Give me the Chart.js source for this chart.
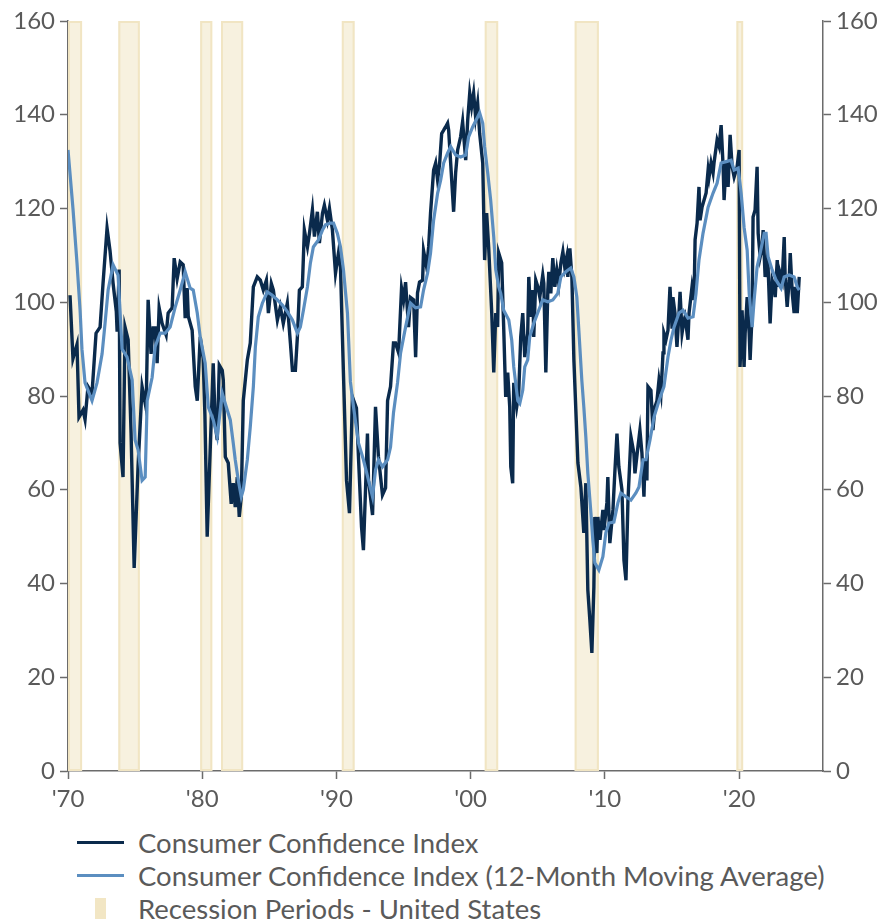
<!DOCTYPE html>
<html>
<head>
<meta charset="utf-8">
<script src="https://cdn.jsdelivr.net/npm/chart.js@4.4.1/dist/chart.umd.min.js"></script>
<style>
	body { margin: 0; background: #fff; }
	#wrap { position: relative; width: 885px; height: 921px; }
	#chartBox { position: absolute; left: 0; top: 0; width: 885px; height: 820px; }
	#legend { position: absolute; left: 0; top: 826px; font-family: Lato, sans-serif; font-size: 27.5px; color: #5a5a5a; }
	.row { display: flex; align-items: center; height: 33px; white-space: nowrap; }
	.line { display: inline-block; margin-left: 77px; width: 47px; height: 3px; margin-right: 14px; }
	.box { display: inline-block; margin-left: 95px; width: 11px; height: 21px; margin-right: 32px; background: #f2e6c4; }
</style>
</head>
<body>
<div id="wrap">
	<div id="chartBox"><canvas id="chart"></canvas></div>
	<div id="legend"></div>
</div>
<script>
const seriesLabels = ['Consumer Confidence Index', 'Consumer Confidence Index (12-Month Moving Average)', 'Recession Periods - United States'];

const cciDates = [
	1970.15, 1970.37, 1970.67, 1970.82, 1971.12, 1971.27, 1971.49, 1971.79, 1972.09, 1972.39, 1972.61, 1972.91,
	1973.13, 1973.36, 1973.60, 1973.66, 1973.81, 1973.88, 1974.10, 1974.25, 1974.48, 1974.70, 1974.93, 1975.22,
	1975.52, 1975.82, 1975.97, 1976.19, 1976.34, 1976.49, 1976.64, 1976.79, 1977.01, 1977.31, 1977.46, 1977.76,
	1977.91, 1978.13, 1978.36, 1978.58, 1978.73, 1978.88, 1978.96, 1979.25, 1979.48, 1979.63, 1979.85, 1980.07,
	1980.20, 1980.37, 1980.60, 1980.82, 1980.97, 1981.12, 1981.27, 1981.49, 1981.57, 1981.72, 1981.94, 1982.16,
	1982.31, 1982.46, 1982.61, 1982.76, 1982.91, 1983.06, 1983.36, 1983.58, 1983.81, 1984.10, 1984.33, 1984.55,
	1984.78, 1984.93, 1985.15, 1985.30, 1985.60, 1985.82, 1986.04, 1986.34, 1986.57, 1986.72, 1986.94, 1987.09,
	1987.24, 1987.46, 1987.61, 1987.84, 1987.99, 1988.21, 1988.36, 1988.58, 1988.73, 1988.96, 1989.10, 1989.33,
	1989.48, 1989.70, 1989.93, 1990.15, 1990.30, 1990.52, 1990.75, 1990.97, 1991.19, 1991.49, 1991.64, 1991.87,
	1992.01, 1992.31, 1992.39, 1992.69, 1992.91, 1993.13, 1993.43, 1993.66, 1993.81, 1994.03, 1994.25, 1994.40,
	1994.63, 1994.85, 1995.00, 1995.15, 1995.37, 1995.52, 1995.75, 1995.90, 1996.04, 1996.19, 1996.42, 1996.49,
	1996.72, 1996.87, 1997.01, 1997.24, 1997.39, 1997.54, 1997.69, 1997.84, 1997.99, 1998.13, 1998.28, 1998.36,
	1998.51, 1998.73, 1998.88, 1999.03, 1999.25, 1999.40, 1999.63, 1999.78, 1999.93, 2000.07, 2000.22, 2000.37,
	2000.52, 2000.67, 2000.90, 2001.04, 2001.19, 2001.34, 2001.57, 2001.72, 2001.87, 2002.01, 2002.09, 2002.31,
	2002.46, 2002.61, 2002.76, 2002.91, 2002.99, 2003.13, 2003.21, 2003.43, 2003.58, 2003.73, 2003.88, 2004.03,
	2004.25, 2004.33, 2004.48, 2004.63, 2004.70, 2004.85, 2005.00, 2005.15, 2005.37, 2005.45, 2005.60, 2005.75,
	2005.82, 2005.97, 2006.12, 2006.27, 2006.42, 2006.57, 2006.72, 2006.87, 2007.01, 2007.16, 2007.24, 2007.39,
	2007.54, 2007.69, 2007.99, 2008.21, 2008.43, 2008.58, 2008.73, 2008.88, 2009.03, 2009.18, 2009.25, 2009.40,
	2009.48, 2009.63, 2009.85, 2009.93, 2010.15, 2010.22, 2010.37, 2010.60, 2010.75, 2010.90, 2011.04, 2011.27,
	2011.42, 2011.57, 2011.72, 2011.94, 2012.16, 2012.24, 2012.46, 2012.61, 2012.76, 2012.91, 2012.99, 2013.13,
	2013.21, 2013.43, 2013.58, 2013.73, 2013.88, 2014.03, 2014.18, 2014.33, 2014.40, 2014.55, 2014.70, 2014.85,
	2015.00, 2015.07, 2015.22, 2015.37, 2015.52, 2015.60, 2015.75, 2015.90, 2015.97, 2016.19, 2016.27, 2016.49,
	2016.64, 2016.72, 2016.87, 2017.01, 2017.09, 2017.24, 2017.39, 2017.54, 2017.69, 2017.76, 2017.91, 2018.06,
	2018.13, 2018.36, 2018.51, 2018.66, 2018.81, 2018.88, 2019.03, 2019.18, 2019.33, 2019.48, 2019.63, 2019.85,
	2020.00, 2020.07, 2020.22, 2020.37, 2020.45, 2020.60, 2020.75, 2020.82, 2020.97, 2021.04, 2021.19, 2021.34,
	2021.42, 2021.57, 2021.72, 2021.79, 2021.94, 2022.09, 2022.16, 2022.31, 2022.46, 2022.61, 2022.69, 2022.84,
	2022.99, 2023.06, 2023.21, 2023.36, 2023.43, 2023.58, 2023.73, 2023.81, 2023.96, 2024.10, 2024.18, 2024.33,
	2024.48
];
const cciValues = [
	101.5, 88, 91, 75.5, 77, 75, 82, 80.6, 93.4, 94.7, 104, 115.8,
	111, 104, 98, 93.7, 107, 70, 62.7, 94.7, 92, 72, 43.3, 65,
	82, 77.4, 100.5, 89, 94.5, 94.5, 87, 98.8, 95.5, 93, 97.7, 98.8,
	109.4, 105, 108.6, 108, 96.6, 103, 97, 94, 82, 79, 92.6, 88,
	76, 50, 69, 87, 74, 70.6, 86.6, 85.5, 83.4, 67, 65.7, 57,
	61.4, 56.3, 62.7, 54.2, 58.5, 79, 87.7, 91.3, 103.3, 105.4, 104.7, 102.6,
	104.7, 97.7, 104, 102.6, 96.2, 99, 95.5, 99.8, 91.3, 85.5, 85.5, 92.6,
	102.6, 103.3, 115.4, 111.8, 114.7, 119.7, 114, 119.3, 112.6, 119, 120.7, 117.5,
	120, 115.4, 106.2, 110.5, 107.5, 85, 62, 55, 79.8, 77.4, 67, 52,
	47.1, 72, 62, 54.6, 77.7, 67, 58.9, 60.4, 79, 82, 91.3, 91.3,
	89.2, 103, 100.5, 104.3, 94.7, 101, 100.5, 88.3, 102, 104.3, 104.7, 111,
	107.5, 111.8, 119, 128.2, 129.7, 126, 129.7, 136, 136.7, 137.4, 138.2, 136.7,
	129.7, 119.3, 127.6, 132.5, 135.3, 138.5, 130.3, 138.9, 144.6, 141.7, 144.6, 139.5,
	142.5, 136, 129.7, 109, 119, 111.8, 97.7, 85, 97.7, 94.7, 110.5, 108.4,
	94.7, 79.8, 85, 77.7, 64.9, 61.4, 82.8, 77.7, 80.6, 92.6, 97.7, 88.3,
	93.4, 105.4, 96.9, 102.6, 92.6, 104.7, 103.3, 101.1, 105.8, 104, 85, 102.6,
	106.5, 101.9, 109.4, 103.3, 106.9, 104, 108.4, 110.8, 107.5, 109.7, 105.4, 111.5,
	105.4, 87.7, 65.7, 60.6, 50.8, 61.4, 38.6, 32.2, 25.2, 39.3, 54.2, 46.5,
	54.2, 49.3, 55.7, 51.4, 57.2, 62.7, 48.6, 55.7, 64.2, 72, 64.9, 60,
	45, 40.7, 57.8, 71.3, 67.8, 63.5, 69.1, 72.7, 67.8, 58.5, 66.4, 62,
	82, 81.2, 72.7, 77.7, 79, 83.4, 80.6, 89.2, 93.4, 92, 94, 103.3,
	94.7, 101.1, 97.7, 90.5, 97.7, 102.2, 93.4, 96.2, 96.9, 92, 97.7, 103.3,
	100.5, 113.3, 116.9, 124.6, 117.5, 120.3, 121.8, 123.3, 128.2, 126.7, 129.7, 127.6,
	129.7, 134.6, 133.2, 137.8, 128.9, 121.8, 129.7, 124.6, 135.7, 128.9, 126.7, 128.9,
	132.5, 86.2, 98.3, 86.2, 93.4, 101.1, 93.4, 87.7, 97.7, 118.2, 119.7, 128.9,
	114.7, 109.7, 111.8, 115.4, 105.4, 109, 107.5, 95.5, 104.7, 103.3, 101.1, 109,
	103.3, 106.2, 104.7, 113.9, 105.4, 99, 104.7, 110.5, 101.9, 97.7, 103.3, 97.7,
	105.4
];

const maDates = [
	1970.00, 1970.37, 1970.67, 1970.90, 1971.04, 1971.27, 1971.79, 1972.16, 1972.54, 1972.76, 1972.99, 1973.36,
	1973.73, 1974.03, 1974.40, 1974.78, 1975.00, 1975.22, 1975.52, 1975.75, 1975.90, 1976.27, 1976.49, 1976.87,
	1977.24, 1977.61, 1977.99, 1978.36, 1978.73, 1979.10, 1979.33, 1979.63, 1979.85, 1980.22, 1980.45, 1980.82,
	1981.12, 1981.49, 1981.79, 1982.09, 1982.31, 1982.46, 1982.69, 1982.91, 1983.06, 1983.36, 1983.58, 1983.81,
	1983.96, 1984.18, 1984.48, 1984.85, 1985.22, 1985.60, 1985.97, 1986.34, 1986.72, 1987.09, 1987.31, 1987.54,
	1987.84, 1988.06, 1988.28, 1988.66, 1988.96, 1989.18, 1989.55, 1989.78, 1990.07, 1990.30, 1990.52, 1990.82,
	1991.04, 1991.27, 1991.64, 1992.01, 1992.39, 1992.69, 1992.91, 1993.13, 1993.43, 1993.81, 1994.03, 1994.25,
	1994.55, 1994.78, 1995.15, 1995.52, 1995.90, 1996.27, 1996.49, 1996.79, 1997.01, 1997.24, 1997.54, 1997.76,
	1997.99, 1998.28, 1998.51, 1998.88, 1999.25, 1999.63, 1999.85, 2000.15, 2000.52, 2000.67, 2000.90, 2001.04,
	2001.27, 2001.49, 2001.72, 2001.87, 2002.09, 2002.24, 2002.46, 2002.84, 2003.06, 2003.21, 2003.51, 2003.66,
	2003.88, 2004.03, 2004.25, 2004.40, 2004.70, 2005.07, 2005.37, 2005.75, 2006.12, 2006.49, 2006.72, 2007.09,
	2007.46, 2007.69, 2007.91, 2008.06, 2008.28, 2008.43, 2008.58, 2008.73, 2008.96, 2009.10, 2009.25, 2009.55,
	2009.85, 2010.07, 2010.30, 2010.67, 2010.97, 2011.19, 2011.57, 2011.94, 2012.31, 2012.54, 2012.84, 2013.06,
	2013.36, 2013.66, 2014.03, 2014.40, 2014.70, 2014.93, 2015.15, 2015.52, 2015.82, 2016.19, 2016.57, 2016.79,
	2017.01, 2017.31, 2017.69, 2018.06, 2018.36, 2018.66, 2019.03, 2019.40, 2019.63, 2019.93, 2020.15, 2020.37,
	2020.60, 2020.75, 2020.97, 2021.12, 2021.34, 2021.57, 2021.87, 2022.01, 2022.16, 2022.46, 2022.76, 2023.13,
	2023.36, 2023.73, 2024.10, 2024.33, 2024.48
];
const maValues = [
	132.5, 120, 108.4, 98.3, 90, 82.8, 79, 82.8, 89, 95.5, 102.6, 108,
	105.8, 90, 88.3, 83.4, 70.6, 68.5, 62, 62.7, 79, 84, 90.5, 93.4,
	93.4, 94.7, 99, 102.6, 106.5, 103, 102.6, 97.7, 92.6, 87, 77.7, 74.9,
	71.3, 80.6, 77.7, 74.9, 70, 66.4, 62, 58.5, 60, 66.4, 73.4, 82,
	90.5, 96.9, 99.8, 102.2, 101.5, 100.5, 99.4, 98, 96.2, 93.4, 94.7, 98.3,
	103.3, 108.4, 111.8, 113.3, 115.4, 116.5, 116.9, 116.9, 114.7, 111.8, 107, 97.7,
	83, 77.7, 70, 66.4, 62, 58.5, 64.2, 66.4, 64.9, 66.4, 69.1, 76.4,
	82.8, 89.2, 94.7, 99.8, 98.8, 99, 102.6, 106.2, 110.5, 117.5, 123.3, 126,
	129.7, 131.8, 133.2, 131.4, 131, 131.4, 135.3, 137.4, 139.5, 140.4, 138.2, 133.2,
	127.6, 121.8, 113.9, 106.9, 103.3, 101.9, 98.3, 96.2, 91.9, 86.2, 79, 78.4,
	81.2, 86.2, 87.7, 92.6, 95.5, 98.3, 100.5, 100.1, 100.5, 101.9, 105.4, 106.5,
	107.3, 105.4, 101.1, 94, 83.4, 77.7, 71.3, 63.5, 55, 49.3, 44.4, 42.9,
	45.7, 50.8, 52.9, 53.1, 57.2, 59.3, 58.5, 57.8, 59.3, 60.6, 66.4, 66.4,
	70.6, 75.5, 79, 82, 88.3, 92, 94.7, 97.7, 98.3, 96.6, 96.9, 101.9,
	109, 114.7, 120.3, 123.3, 125.4, 129.7, 130, 130.3, 128.2, 128.6, 123.3, 116,
	111.1, 101.9, 94.7, 100.5, 107.5, 110.5, 114.7, 114.7, 109.7, 106.9, 104.7, 103,
	105.4, 105.8, 105.4, 103.3, 102.6
];

const recessionStarts = [1970.0, 1973.75, 1979.85, 1981.4, 1990.4, 2001.05, 2007.75, 2019.8];
const recessionEnds = [1971.05, 1975.35, 1980.75, 1983.05, 1991.35, 2002.05, 2009.55, 2020.3];

const textColor = '#5a5a5a';
const axisColor = '#6b6b6b';
const tickFont = { family: 'Lato', size: 24 };

let recessionBands = {
	id: 'recessionBands',
	beforeDatasetsDraw(chart){
		let ctx = chart.ctx;
		let area = chart.chartArea;
		let xScale = chart.scales.x;
		ctx.save();
		recessionStarts.forEach((start, i) => {
			let x0 = xScale.getPixelForValue(start);
			let x1 = xScale.getPixelForValue(recessionEnds[i]);
			ctx.fillStyle = '#f7f1df';
			ctx.fillRect(x0, area.top, x1 - x0, area.bottom - area.top);
			ctx.strokeStyle = '#f1e5c3';
			ctx.lineWidth = 2;
			ctx.strokeRect(x0 + 1, area.top + 1, x1 - x0 - 2, area.bottom - area.top - 2);
		});
		ctx.restore();
	}
};

function yAxis(position, width){
	return {
		type: 'linear',
		position: position,
		min: 0,
		max: 160,
		ticks: { stepSize: 20, color: textColor, font: tickFont, padding: 5 },
		grid: { drawOnChartArea: false, tickLength: 8, color: axisColor, tickWidth: 1.5 },
		border: { color: axisColor, width: 1.5 },
		afterFit: scale => { scale.width = width; }
	};
}

new Chart(document.getElementById('chart'), {
	type: 'line',
	data: {
		datasets: [{
			label: seriesLabels[0],
			data: cciDates.map((d, i) => ({ x: d, y: cciValues[i] })),
			borderColor: '#0a2a4c',
			borderWidth: 3.4,
			pointRadius: 0,
			order: 2
		}, {
			label: seriesLabels[1],
			data: maDates.map((d, i) => ({ x: d, y: maValues[i] })),
			borderColor: '#5b8ec0',
			borderWidth: 3.2,
			pointRadius: 0,
			order: 1
		}]
	},
	options: {
		responsive: true,
		maintainAspectRatio: false,
		animation: false,
		layout: { padding: { top: 21, bottom: 0, left: 0, right: 0 } },
		plugins: { legend: { display: false }, tooltip: { enabled: false } },
		scales: {
			x: {
				type: 'linear',
				min: 1970,
				max: 2026.25,
				ticks: {
					stepSize: 10,
					includeBounds: false,
					color: textColor,
					font: tickFont,
					padding: 6,
					callback: v => "'" + String(v).slice(2)
				},
				grid: { drawOnChartArea: false, tickLength: 8, color: axisColor, tickWidth: 1.5 },
				border: { color: axisColor, width: 1.5 },
				afterFit: scale => { scale.height = 49; }
			},
			y: yAxis('left', 68),
			y2: yAxis('right', 62)
		}
	},
	plugins: [recessionBands]
});

let legend = document.getElementById('legend');
let legendColors = ['#0a2a4c', '#5b8ec0'];
seriesLabels.forEach((label, i) => {
	let row = document.createElement('div');
	let mark = document.createElement('span');
	row.className = 'row';
	if(i < 2){
		mark.className = 'line';
		mark.style.background = legendColors[i];
	} else {
		mark.className = 'box';
	}
	row.appendChild(mark);
	row.appendChild(document.createTextNode(label));
	legend.appendChild(row);
});
</script>
</body>
</html>
